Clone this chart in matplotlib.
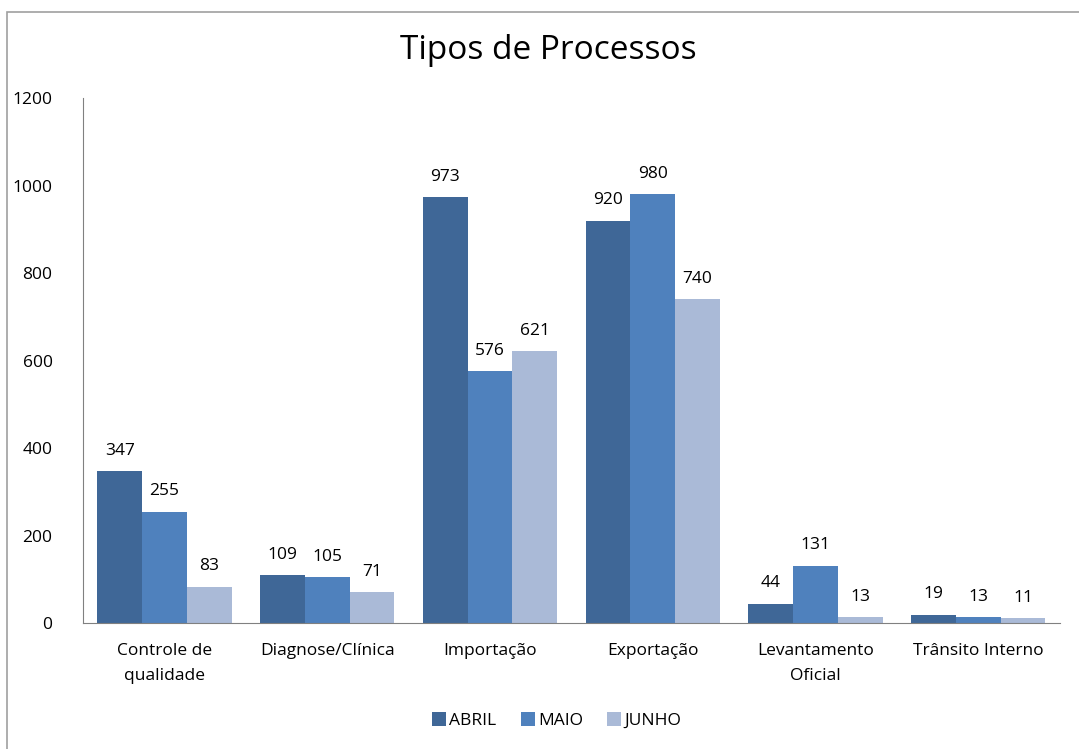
import numpy as np
import matplotlib.pyplot as plt
from matplotlib.patches import Rectangle

plt.rcParams['font.family'] = ['Open Sans', 'DejaVu Sans']

categorias = ['Controle de\nqualidade', 'Diagnose/Clínica', 'Importação',
              'Exportação', 'Levantamento\nOficial', 'Trânsito Interno']
abril = [347, 109, 973, 920, 44, 19]
maio = [255, 105, 576, 980, 131, 13]
junho = [83, 71, 621, 740, 13, 11]
series = ['ABRIL', 'MAIO', 'JUNHO']
cores = ['#3F6797', '#4F81BD', '#AABAD7']

fig = plt.figure(figsize=(10.79, 7.49), dpi=100)
fig.patches.append(Rectangle((7 / 1079, -0.01), 1.0, 1 - 12 / 749 + 0.01,
                             transform=fig.transFigure, fill=False,
                             edgecolor='#a0a0a0', linewidth=1.2))
ax = fig.add_axes([0.077, 0.168, 0.905, 0.701])

x = np.arange(len(categorias))
w = 0.275
for i, (vals, nome, cor) in enumerate(zip([abril, maio, junho], series, cores)):
    pos = x + (i - 1) * w
    barras = ax.bar(pos, vals, w, color=cor, label=nome)
    ax.bar_label(barras, padding=9, fontsize=12.5, color='#000000')

ax.set_xlim(-0.5, len(categorias) - 0.5)
ax.set_ylim(0, 1200)
ax.set_yticks(range(0, 1201, 200))
ax.set_xticks(x)
ax.set_xticklabels(categorias, fontsize=12.5, linespacing=1.75)
ax.tick_params(axis='both', length=0, labelsize=12.5)
ax.tick_params(axis='y', pad=22)
ax.tick_params(axis='x', pad=14)
for s in ['top', 'right']:
    ax.spines[s].set_visible(False)
ax.spines['left'].set_color('#808080')
ax.spines['bottom'].set_color('#808080')

fig.text(0.508, 0.932, 'Tipos de Processos', ha='center', va='center', fontsize=24)
ax.legend(loc='upper center', bbox_to_anchor=(0.485, -0.14), ncol=3, frameon=False,
          fontsize=12.5, handlelength=0.8, handleheight=0.8, handletextpad=0.2,
          columnspacing=1.4)

fig.savefig('out.png', dpi=100)
